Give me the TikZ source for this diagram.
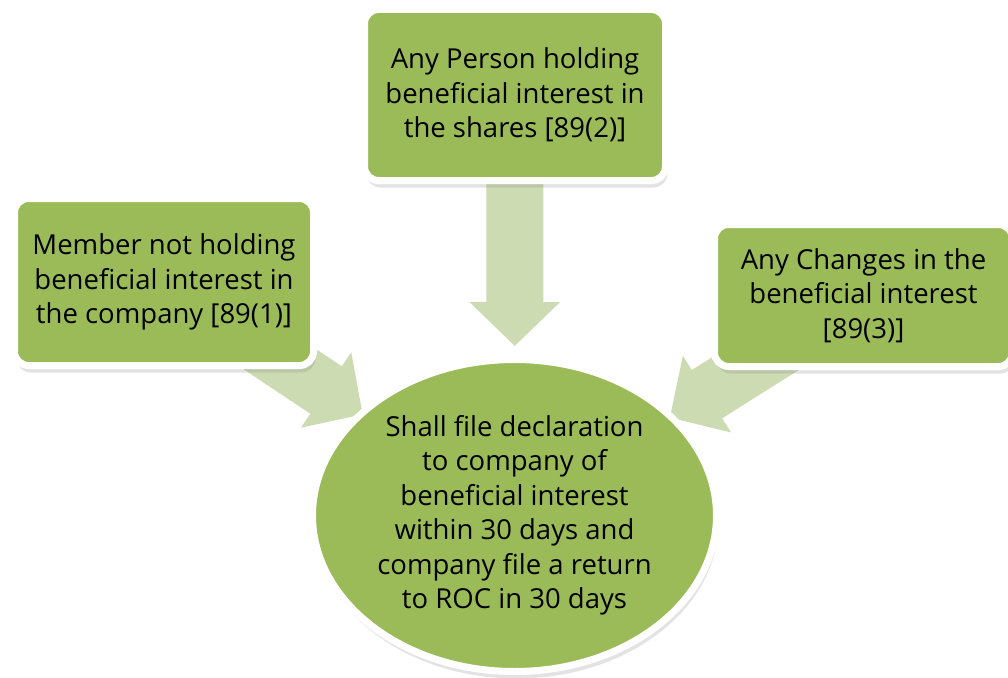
\documentclass[tikz,border=0pt]{standalone}
\usepackage{fontspec}
\setmainfont{Open Sans}
\usetikzlibrary{shapes.geometric,arrows.meta,shadows,backgrounds}
\definecolor{boxgreen}{RGB}{155,187,89}
\definecolor{arrowgreen}{RGB}{205,219,179}

\begin{document}
\begin{tikzpicture}[x=1pt,y=-1pt,
        card/.style={rectangle, rounded corners=14pt, fill=boxgreen, draw=white, line width=7pt,
            drop shadow={shadow xshift=2pt, shadow yshift=-7pt, opacity=0.22},
            align=center, inner sep=0pt, font=\fontsize{27.5}{34.5}\selectfont},
        bigarrow/.style={draw=arrowgreen, line width=57pt,
            -{Triangle[length=44pt,width=88pt]}}]
                \useasboundingbox (0,0) rectangle (1008,677);

                \node[card, minimum width=301pt, minimum height=171pt] (share) at (515,95)
                    {Any Person holding\\beneficial interest in\\the shares [89(2)]};
                \node[card, minimum width=299pt, minimum height=167pt] (member) at (164,282)
                    {Member not holding\\beneficial interest in\\the company [89(1)]};
                \node[card, minimum width=298pt, minimum height=142pt] (change) at (863.5,295.5)
                    {Any Changes in the\\beneficial interest\\{[}89(3)]};
                \node[card, ellipse, rounded corners=0pt, minimum width=404pt, minimum height=312pt] (decl) at (514.5,515.5)
                    {Shall file declaration\\to company of\\beneficial interest\\within 30 days and\\company file a return\\to ROC in 30 days};

                \begin{pgfonlayer}{background}
                    \draw[bigarrow, shorten >=10pt] (share.center) -- (decl);
                    \draw[bigarrow, shorten >=-5pt] (member.center) -- (decl);
                    \draw[bigarrow, shorten >=-5pt] (change.center) -- (decl);
                \end{pgfonlayer}
            \end{tikzpicture}
\end{document}
